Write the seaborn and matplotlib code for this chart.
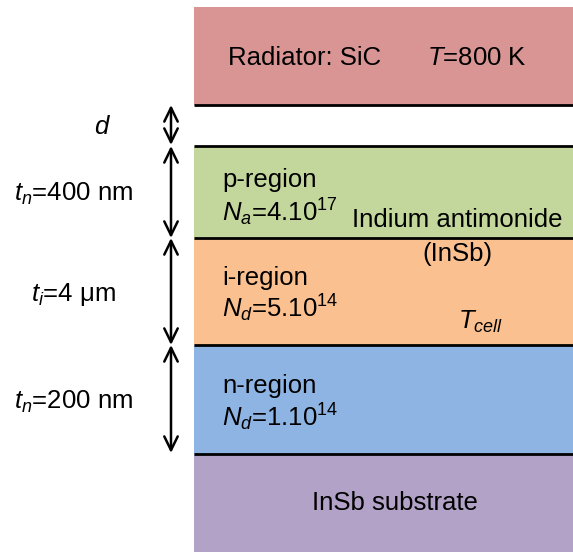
import seaborn as sns
import matplotlib.pyplot as plt

# layer stack (pixel units, y measured from top)
layer_names = ["radiator", "p", "i", "n", "substrate"]
layer_top = [7, 146, 238, 345, 454]
layer_bottom = [105, 238, 345, 454, 552]
layer_colors = ["#D99594", "#C3D69B", "#FAC090", "#8EB4E3", "#B2A2C7"]

# thickness arrows
arrow_from = [105, 146, 238, 345]
arrow_to = [145, 238, 345, 453]
arrow_labels = ["$d$", "$t_n$=400 nm", "$t_i$=4 μm", "$t_n$=200 nm"]


def main():
    sns.set_style("white")
    plt.rcParams['font.family'] = ['Liberation Sans', 'DejaVu Sans']
    plt.rcParams['text.color'] = 'black'
    plt.rcParams['mathtext.fontset'] = 'custom'
    plt.rcParams['mathtext.it'] = 'Liberation Sans:italic'
    plt.rcParams['mathtext.rm'] = 'Liberation Sans'

    fig = plt.figure(figsize=(5.73, 5.52), dpi=100)
    ax = fig.add_axes([0, 0, 1, 1])
    ax.set_xlim(0, 573)
    ax.set_ylim(552, 0)
    ax.axis('off')

    x0, x1 = 194, 573
    for top, bot, col in zip(layer_top, layer_bottom, layer_colors):
        ax.bar((x0 + x1) / 2, bot - top, bottom=top, width=x1 - x0,
               color=col, edgecolor='none')
    # boundary lines
    for y in [105, 146, 238, 345, 454]:
        ax.plot([x0, x1], [y, y], color='black', lw=2, solid_capstyle='butt')

    # arrows
    for a, b in zip(arrow_from, arrow_to):
        ax.annotate('', xy=(171, b), xytext=(171, a),
                    arrowprops=dict(arrowstyle='<->,head_length=0.45,head_width=0.22',
                                    lw=1.8, color='black',
                                    mutation_scale=22, shrinkA=0, shrinkB=0))

    fs = 18.5
    ax.text(102, 127, arrow_labels[0], fontsize=fs, ha='center', va='center')
    ax.text(74, 194, arrow_labels[1], fontsize=fs, ha='center', va='center')
    ax.text(73, 295, arrow_labels[2], fontsize=fs, ha='center', va='center')
    ax.text(74, 402, arrow_labels[3], fontsize=fs, ha='center', va='center')

    ax.text(228, 58, "Radiator: SiC", fontsize=fs, ha='left', va='center')
    ax.text(427, 58, "$T$=800 K", fontsize=fs, ha='left', va='center')

    ax.text(222, 180, "p-region", fontsize=fs, ha='left', va='center')
    ax.text(222, 212, "$N_a$=4.10$^{17}$", fontsize=fs, ha='left', va='center')
    ax.text(457, 220, "Indium antimonide", fontsize=fs, ha='center', va='center')
    ax.text(457, 254, "(InSb)", fontsize=fs, ha='center', va='center')

    ax.text(222, 278, "i-region", fontsize=fs, ha='left', va='center')
    ax.text(222, 308, "$N_d$=5.10$^{14}$", fontsize=fs, ha='left', va='center')
    ax.text(458, 322, "$T_{cell}$", fontsize=fs, ha='left', va='center')

    ax.text(222, 386, "n-region", fontsize=fs, ha='left', va='center')
    ax.text(222, 417, "$N_d$=1.10$^{14}$", fontsize=fs, ha='left', va='center')

    ax.text(395, 503, "InSb substrate", fontsize=fs, ha='center', va='center')

    fig.savefig("out.png", dpi=100)


if __name__ == "__main__":
    main()
